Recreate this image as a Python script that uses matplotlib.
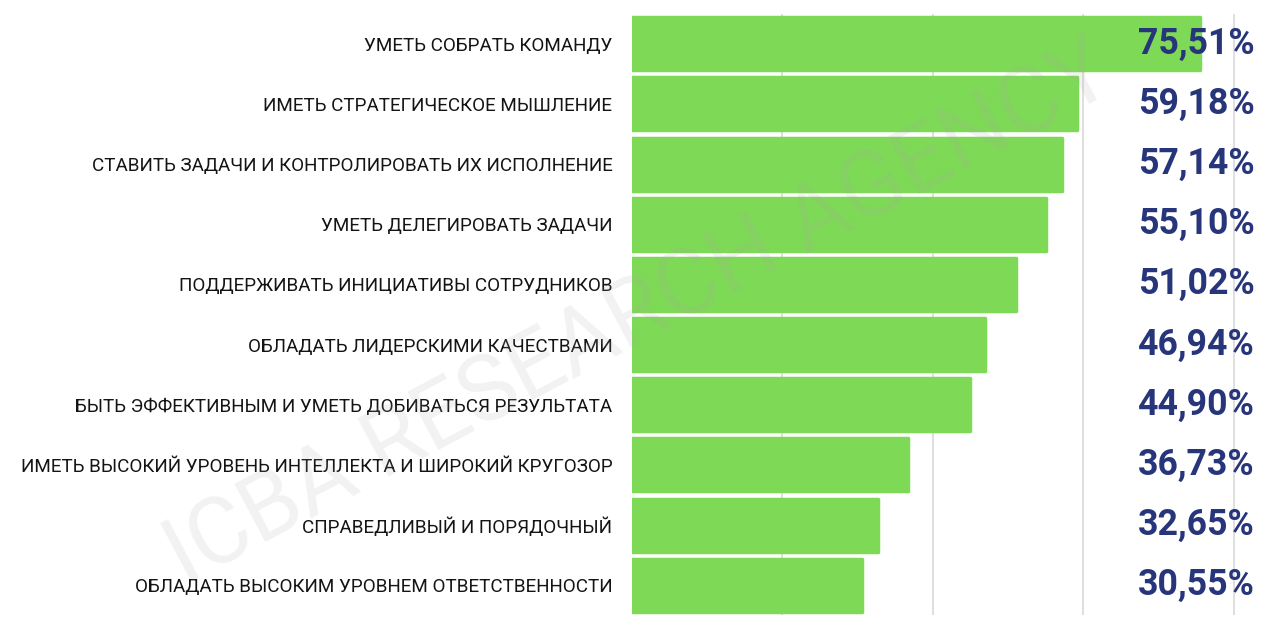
"""
Horizontal bar chart: leadership skills (share of answers, %)
Saves out.png
"""

import matplotlib
matplotlib.use("Agg")
import matplotlib.pyplot as plt

labels = [
    "УМЕТЬ СОБРАТЬ КОМАНДУ",
    "ИМЕТЬ СТРАТЕГИЧЕСКОЕ МЫШЛЕНИЕ",
    "СТАВИТЬ ЗАДАЧИ И КОНТРОЛИРОВАТЬ ИХ ИСПОЛНЕНИЕ",
    "УМЕТЬ ДЕЛЕГИРОВАТЬ ЗАДАЧИ",
    "ПОДДЕРЖИВАТЬ ИНИЦИАТИВЫ СОТРУДНИКОВ",
    "ОБЛАДАТЬ ЛИДЕРСКИМИ КАЧЕСТВАМИ",
    "БЫТЬ ЭФФЕКТИВНЫМ И УМЕТЬ ДОБИВАТЬСЯ РЕЗУЛЬТАТА",
    "ИМЕТЬ ВЫСОКИЙ УРОВЕНЬ ИНТЕЛЛЕКТА И ШИРОКИЙ КРУГОЗОР",
    "СПРАВЕДЛИВЫЙ И ПОРЯДОЧНЫЙ",
    "ОБЛАДАТЬ ВЫСОКИМ УРОВНЕМ ОТВЕТСТВЕННОСТИ",
]
values = [75.51, 59.18, 57.14, 55.10, 51.02, 46.94, 44.90, 36.73, 32.65, 30.55]
value_text = ["75,51%", "59,18%", "57,14%", "55,10%", "51,02%",
              "46,94%", "44,90%", "36,73%", "32,65%", "30,55%"]
grid_ticks = [20, 40, 60, 80]
watermark = "ICBA RESEARCH AGENCY"

GREEN = "#7ed957"
NAVY = "#27357a"

plt.rcParams["font.family"] = ["Roboto", "DejaVu Sans"]

fig = plt.figure(figsize=(12.79, 6.29), dpi=100)
ax = fig.add_axes([0.494, 0.0223, 0.4825, 0.9555])

y = list(range(len(values)))
ax.barh(y, values, height=0.88, color=GREEN, edgecolor=GREEN,
        linewidth=2.5, joinstyle="round", zorder=2)

ax.set_xlim(0, 82)
ax.set_ylim(len(values) - 1 + 0.495, -0.495)
ax.set_xticks(grid_ticks)
ax.xaxis.grid(True, color="#d9d9d9", linewidth=1.2, zorder=0)
ax.set_axisbelow(True)
ax.tick_params(axis="x", length=0, labelbottom=False)
ax.tick_params(axis="y", length=0, pad=14)
for s in ax.spines.values():
    s.set_visible(False)

ax.set_yticks(y)
ax.set_yticklabels(labels, color="#141414", fontsize=19)

vals = []
for yi, txt in zip(y, value_text):
    vals.append(ax.text(82.8, yi, txt, ha="right", va="center", color=NAVY,
                        fontsize=26, fontweight="bold", clip_on=False, zorder=4))

# fit the longest label to ~594 px and the value texts to ~117 px
fig.canvas.draw()
r = fig.canvas.get_renderer()
widest = max(t.get_window_extent(r).width for t in ax.get_yticklabels())
fs = 19 * 594 / widest
for t in ax.get_yticklabels():
    t.set_fontsize(fs)
vw = max(t.get_window_extent(r).width for t in vals)
for t in vals:
    t.set_fontsize(26 * 117 / vw)

fig.text(0.5, 0.5, watermark, rotation=28, ha="center", va="center",
         fontsize=66, color="#a8a8a8", alpha=0.15, zorder=10)

fig.savefig("out.png", dpi=100, facecolor="white")
